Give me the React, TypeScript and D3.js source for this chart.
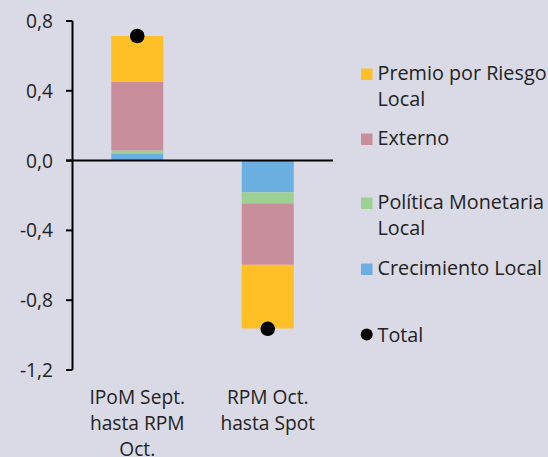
import React from "react";
import * as d3 from "d3";

const categories = ["IPoM Sept.|hasta RPM|Oct.", "RPM Oct.|hasta Spot"];
const crecimientoLocal = [0.041, -0.182];
const politicaMonetaria = [0.017, -0.063];
const externo = [0.394, -0.352];
const premioRiesgo = [0.262, -0.365];
const total = [0.714, -0.964];
const yTicks = [0.8, 0.4, 0.0, -0.4, -0.8, -1.2];

const seriesKeys = ["crec", "pol", "ext", "prem"];
const seriesColors: Record<string, string> = {
  crec: "#6aafdf",
  pol: "#9dd193",
  ext: "#c98e9b",
  prem: "#ffbf27",
};

const legendItems = [
  { key: "prem", lines: ["Premio por Riesgo", "Local"], y: 80 },
  { key: "ext", lines: ["Externo"], y: 145 },
  { key: "pol", lines: ["Política Monetaria", "Local"], y: 209 },
  { key: "crec", lines: ["Crecimiento Local"], y: 275 },
];

export default function App() {
  const W = 548, H = 457;
  const font = "'Open Sans', 'Noto Sans', sans-serif";
  const fs = 19.2;
  const fsLeg = 19.8;
  const y = d3.scaleLinear().domain([-1.2, 0.8]).range([370, 21]);
  const x = d3
    .scaleBand<string>()
    .domain(categories)
    .range([72, 333])
    .paddingInner(0.6015)
    .paddingOuter(0.30075);

  const rows = categories.map((c, i) => ({
    cat: c,
    crec: crecimientoLocal[i],
    pol: politicaMonetaria[i],
    ext: externo[i],
    prem: premioRiesgo[i],
  }));
  const stack = d3
    .stack<any>()
    .keys(seriesKeys)
    .offset(d3.stackOffsetDiverging);
  const series = stack(rows);
  const fmt = (v: number) => d3.format(".1f")(v).replace(".", ",").replace("−", "-");

  return (
    <div style={{ position: "absolute", left: 0, top: 0 }}>
      <svg width={W} height={H} style={{ display: "block", fontFamily: font }}>
        <rect x={0} y={0} width={W} height={H} fill="#dadae6" />
        {series.map((s) =>
          s.map((d, i) => (
            <rect
              key={s.key + i}
              x={x(categories[i])}
              width={x.bandwidth()}
              y={y(Math.max(d[0], d[1]))}
              height={Math.abs(y(d[0]) - y(d[1]))}
              fill={seriesColors[s.key]}
            />
          ))
        )}
        {/* y axis */}
        <line x1={72.5} x2={72.5} y1={y(0.8)} y2={y(-1.2)} stroke="#000" strokeWidth={2} />
        {yTicks.map((t) => (
          <g key={t}>
            <line x1={66} x2={72.5} y1={y(t)} y2={y(t)} stroke="#000" strokeWidth={2} />
            <text x={53} y={y(t) + 7} textAnchor="end" fontSize={fs} fill="#222">
              {fmt(t)}
            </text>
          </g>
        ))}
        <line x1={66} x2={333} y1={y(0)} y2={y(0)} stroke="#000" strokeWidth={2} />
        {total.map((t, i) => (
          <circle
            key={i}
            cx={(x(categories[i]) as number) + x.bandwidth() / 2}
            cy={y(t)}
            r={7.3}
            fill="#000"
          />
        ))}
        {categories.map((c) => (
          <text
            key={c}
            textAnchor="middle"
            fontSize={fs}
            fill="#222"
            x={(x(c) as number) + x.bandwidth() / 2}
          >
            {c.split("|").map((l, j) => (
              <tspan key={j} x={(x(c) as number) + x.bandwidth() / 2} y={404 + j * 26}>
                {l}
              </tspan>
            ))}
          </text>
        ))}
        {legendItems.map((it) => (
          <g key={it.key}>
            <rect x={361} y={it.y - 11.5} width={11.5} height={11.5} fill={seriesColors[it.key]} />
            <text fontSize={fsLeg} fill="#222">
              {it.lines.map((l, j) => (
                <tspan key={j} x={377.5} y={it.y + j * 26}>
                  {l}
                </tspan>
              ))}
            </text>
          </g>
        ))}
        <circle cx={366.7} cy={334.5} r={6} fill="#000" />
        <text x={377.5} y={342} fontSize={fsLeg} fill="#222">
          Total
        </text>
      </svg>
    </div>
  );
}
